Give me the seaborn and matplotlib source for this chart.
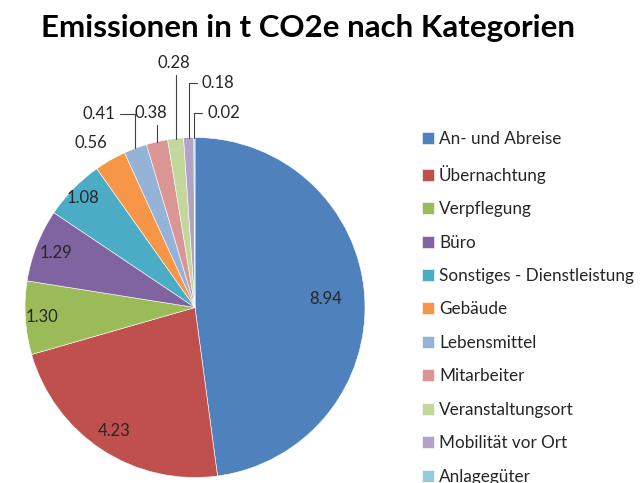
import numpy as np
import matplotlib
matplotlib.use("Agg")
import matplotlib.pyplot as plt
import seaborn as sns

# Daten aus dem Diagramm
kategorien = ['An- und Abreise', 'Übernachtung', 'Verpflegung', 'Büro',
              'Sonstiges - Dienstleistung', 'Gebäude', 'Lebensmittel',
              'Mitarbeiter', 'Veranstaltungsort', 'Mobilität vor Ort', 'Anlagegüter']
werte = [8.94, 4.23, 1.30, 1.29, 1.08, 0.56, 0.41, 0.38, 0.28, 0.18, 0.02]
farben = ['#4F81BD', '#C0504D', '#9BBB59', '#8064A2', '#4BACC6', '#F79646',
          '#95B3D7', '#D99694', '#C3D69B', '#B3A2C7', '#93CDDD']

sns.set_theme(style="white")
plt.rcParams['font.family'] = ['Lato', 'DejaVu Sans']

fig = plt.figure(figsize=(6.42, 4.83), dpi=100)
ax = fig.add_axes([25 / 642, 5 / 483, 340 / 642, 341 / 483])

wedges, _ = ax.pie(werte, colors=sns.color_palette(farben), startangle=90,
                   counterclock=False, radius=1,
                   wedgeprops=dict(edgecolor='white', linewidth=0.4))
ax.set_xlim(-1, 1)
ax.set_ylim(-1, 1)
ax.set_aspect('equal')
ax.axis('off')

# Beschriftungen: innen fuer grosse Stuecke, aussen mit Fuehrungslinie fuer kleine
innen_radius = [0.77, 0.87, 0.9, 0.88, 0.92]
aussen_versatz = [(-19, 17, False), (-36, 34, True), (-6, 29, True),
                  (-2, 76, True), (29, 55, True), (29, 25, True)]

for i, (w, v) in enumerate(zip(wedges, werte)):
    mitte = np.deg2rad((w.theta1 + w.theta2) / 2)
    x, y = np.cos(mitte), np.sin(mitte)
    txt = f"{v:.2f}"
    if i < len(innen_radius):
        r = innen_radius[i]
        ax.text(r * x, r * y, txt, ha='center', va='center',
                fontsize=12, color='#262626')
    else:
        dx, dy, linie = aussen_versatz[i - len(innen_radius)]
        arrow = None
        if linie:
            arrow = dict(arrowstyle='-', color='#404040', lw=0.8,
                         connectionstyle='angle,angleA=0,angleB=90,rad=0',
                         shrinkA=1, shrinkB=0)
        ax.annotate(txt, xy=(x, y), xytext=(dx, dy), textcoords='offset pixels',
                    ha='center', va='center', fontsize=12, color='#262626',
                    arrowprops=arrow, annotation_clip=False)

fig.suptitle('Emissionen in t CO2e nach Kategorien', x=0.479, y=0.97,
             fontsize=22.5, fontweight='bold', color='black')

fig.legend(wedges, kategorien, loc='upper left', bbox_to_anchor=(0.657, 0.728),
           frameon=False, fontsize=12.3, labelspacing=1.02, handlelength=0.7,
           handleheight=0.7, handletextpad=0.3, borderaxespad=0, borderpad=0)

fig.savefig('out.png', dpi=100)
